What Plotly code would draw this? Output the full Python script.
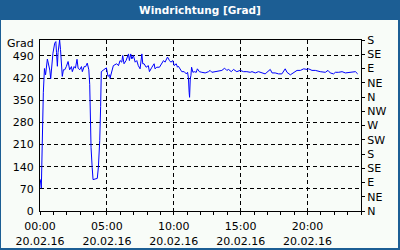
import pandas as pd
import plotly.graph_objects as go

# minutes after 20.02.16 00:00
minutes = [1, 4, 6, 8, 11, 15, 20, 25, 33, 38, 44, 48, 54, 58, 66, 71, 74, 78, 81, 85,
           88, 92, 96, 100, 105, 111, 118, 126, 133, 141, 145, 153, 159, 166, 171, 178, 186, 190, 198, 205,
           212, 219, 223, 225, 229, 234, 238, 247, 257, 262, 268, 272, 275, 286, 298, 305, 313, 314, 322, 329,
           344, 352, 359, 367, 371, 377, 386, 397, 401, 407, 412, 419, 427, 434, 441, 449, 457, 461, 467, 476,
           486, 491, 502, 512, 516, 524, 536, 547, 554, 561, 572, 581, 587, 596, 602, 611, 617, 621, 629, 636,
           647, 656, 662, 666, 669, 671, 674, 677, 680, 686, 692, 701, 706, 715, 726, 741, 756, 763, 771, 786,
           801, 816, 828, 838, 846, 858, 868, 876, 883, 898, 913, 928, 943, 951, 966, 980, 996, 1010, 1018, 1033,
           1041, 1055, 1070, 1085, 1100, 1108, 1123, 1138, 1153, 1168, 1183, 1198, 1205, 1220, 1235, 1257, 1280, 1292, 1302, 1317,
           1325, 1340, 1355, 1370, 1385, 1400, 1415, 1425]
direction = [100, 85, 72, 140, 250, 375, 450, 430, 480, 465, 445, 418, 461, 498, 530, 535, 500, 457, 500, 525,
             540, 510, 477, 425, 446, 446, 456, 472, 446, 456, 440, 456, 451, 479, 451, 446, 456, 440, 456, 456,
             467, 446, 400, 300, 200, 138, 99, 101, 103, 139, 223, 330, 440, 446, 452, 425, 430, 419, 440, 459,
             465, 459, 475, 470, 491, 465, 475, 496, 475, 496, 480, 491, 470, 475, 459, 449, 496, 465, 465, 454,
             459, 440, 454, 465, 449, 454, 454, 470, 475, 470, 486, 475, 470, 475, 459, 465, 454, 457, 449, 440,
             440, 433, 438, 419, 375, 359, 417, 428, 454, 438, 440, 438, 449, 440, 438, 436, 440, 444, 438, 440,
             444, 444, 451, 444, 447, 440, 447, 444, 440, 444, 440, 440, 438, 440, 436, 440, 436, 433, 438, 447,
             436, 436, 433, 433, 449, 438, 430, 438, 444, 444, 449, 447, 449, 444, 444, 440, 438, 444, 436, 433,
             438, 438, 440, 436, 438, 440, 440, 433]

left_ticks = [0, 70, 140, 210, 280, 350, 420, 490]
right_ticks = [0, 45, 90, 135, 180, 225, 270, 315, 360, 405, 450, 495, 540]
right_labels = ["N", "NE", "E", "SE", "S", "SW", "W", "NW", "N", "NE", "E", "SE", "S"]
x_tick_hours = [0, 5, 10, 15, 20]
x_tick_labels = ["00:00<br>20.02.16", "05:00<br>20.02.16", "10:00<br>20.02.16",
                 "15:00<br>20.02.16", "20:00<br>20.02.16"]
title = "Windrichtung [Grad]"
unit_label = "Grad"

base = pd.Timestamp("2016-02-20 00:00")
times = [base + pd.Timedelta(minutes=m) for m in minutes]
xtickvals = [base + pd.Timedelta(hours=h) for h in x_tick_hours]

BLUE = "#1C5E94"
BG = "#F8FCF8"
FONT = dict(family="DejaVu Sans", size=11, color="black")

W, H = 400, 250
L, R, T, B = 40, 39, 40, 39
pw, ph = W - L - R, H - T - B

fig = go.Figure()
fig.add_trace(go.Scatter(x=times, y=direction, mode="lines",
                         line=dict(color="#0000FF", width=1), showlegend=False))
fig.add_trace(go.Scatter(x=[times[0]], y=[direction[0]], yaxis="y2", mode="lines",
                         line=dict(width=0), opacity=0, showlegend=False, hoverinfo="skip"))

fig.update_layout(
    width=W, height=H,
    margin=dict(l=L, r=R, t=T, b=B, pad=0, autoexpand=False),
    paper_bgcolor=BLUE, plot_bgcolor=BG,
    font=FONT,
    title=dict(text="<b>" + title + "</b>", x=0.5, xanchor="center", y=1 - 10.5 / H, yanchor="middle",
               font=dict(family="DejaVu Sans", size=10.5, color="white")),
    xaxis=dict(type="date", range=[base, base + pd.Timedelta(hours=24)],
               tickvals=xtickvals, ticktext=x_tick_labels, tickangle=0, automargin=False,
               showgrid=True, gridcolor="black", griddash="4px,3px", gridwidth=1,
               showline=True, linecolor="black", linewidth=1, mirror=True,
               ticks="outside", ticklen=3, tickcolor="black",
               minor=dict(dtick=3600000, ticks="outside", ticklen=3, tickcolor="black", showgrid=False),
               zeroline=False, fixedrange=True, ticklabelstandoff=2),
    yaxis=dict(range=[0, 540], tickvals=left_ticks, ticks="", automargin=False,
               showgrid=True, gridcolor="black", griddash="4px,3px", gridwidth=1,
               showline=True, linecolor="black", linewidth=1, mirror=True,
               zeroline=False, ticklabelstandoff=3),
    yaxis2=dict(range=[0, 540], overlaying="y", side="right", tickvals=right_ticks, ticktext=right_labels,
                ticks="outside", ticklen=3, tickcolor="black", showgrid=False, showline=False,
                automargin=False, zeroline=False, ticklabelstandoff=0),
    shapes=[dict(type="rect", xref="paper", yref="paper", layer="below",
                 x0=-(L - 1) / pw, x1=1 + (R - 2) / pw, y0=-(B - 2) / ph, y1=1 + (T - 20) / ph,
                 fillcolor=BG, line=dict(width=0))],
    annotations=[dict(text=unit_label, xref="paper", yref="paper", x=-4 / pw, y=1 - 3 / ph,
                      xanchor="right", yanchor="middle", showarrow=False, font=FONT)],
)

fig.write_html("out.html")
